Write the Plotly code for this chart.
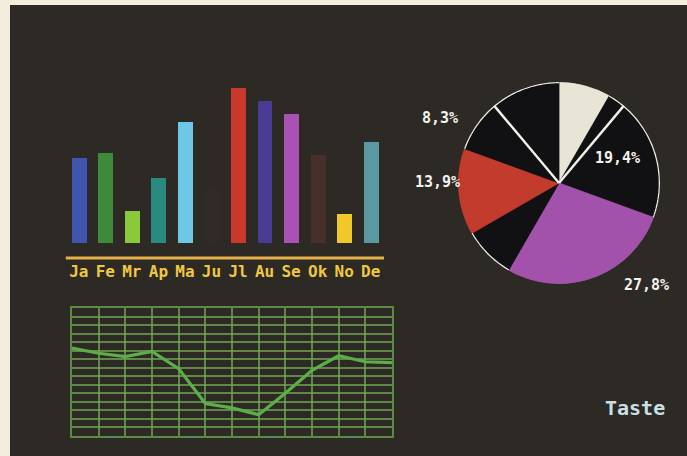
import numpy as np
import plotly.graph_objects as go

# ---- data -------------------------------------------------------------
months = ["Ja", "Fe", "Mr", "Ap", "Ma", "Ju", "Jl", "Au", "Se", "Ok", "No", "De"]
bar_values = [85, 90, 32, 65, 121, 55, 155, 142, 129, 88, 29, 101]
bar_colors = ["#3f55b0", "#3f8a3a", "#8cc83c", "#2a8a80", "#6cc8e6", "#312b27",
              "#c8392c", "#4a3c94", "#a852b4", "#48302a", "#f0c828", "#5a98a2"]

curve_x = list(range(13))
curve_values = [10.3, 9.7, 9.3, 9.9, 7.9, 3.8, 3.3, 2.5, 5.0, 7.7, 9.4, 8.7, 8.6]

# pie slices, clockwise from twelve o'clock (parts of 36)
pie_values = [3, 1, 7, 10, 3, 5, 3, 4]
pie_colors = ["#e8e4d6", "#111113", "#111113", "#a352ab", "#111113",
              "#c23b2c", "#111113", "#111113"]
pie_dark = [False, True, True, False, True, False, True, True]
pie_labelled = [2, 3, 5, 6]          # slices that carry a percentage
pie_rules = [2, 7]                   # slices whose leading edge gets a white rule

# ---- style ------------------------------------------------------------
BG = "#2d2924"
PAPER = "#f3eddd"
W, H = 687, 456
MONO = "DejaVu Sans Mono"


def px_x(p):
    return p / W


def px_y(p):
    return 1 - p / H


fig = go.Figure()

# bar chart
fig.add_trace(go.Bar(
    x=months, y=bar_values, width=0.56,
    marker=dict(color=bar_colors, line=dict(width=0)),
    xaxis="x", yaxis="y", showlegend=False, hoverinfo="skip"))
fig.add_trace(go.Scatter(
    x=months, y=[-30] * len(months), mode="text", text=months,
    textfont=dict(family=MONO, size=16, color="#f0c840", weight="bold"),
    cliponaxis=False, xaxis="x", yaxis="y", showlegend=False, hoverinfo="skip"))

# grid line chart
fig.add_trace(go.Scatter(
    x=curve_x, y=curve_values, mode="lines",
    line=dict(color="#5cae48", width=3.2),
    xaxis="x2", yaxis="y2", showlegend=False, hoverinfo="skip"))

# pie drawn as polar wedges
total = sum(pie_values)
spans = [v / total * 360 for v in pie_values]
starts = np.concatenate([[0], np.cumsum(spans)[:-1]])
mids = starts + np.array(spans) / 2

fig.add_trace(go.Barpolar(
    r=[1] * len(pie_values), theta=mids, width=spans,
    marker=dict(color=pie_colors, line=dict(color=pie_colors, width=0.8)),
    subplot="polar", showlegend=False, hoverinfo="skip"))

rim = "#f2f0ea"
for i, dark in enumerate(pie_dark):
    if dark:
        th = np.linspace(starts[i], starts[i] + spans[i], 40)
        fig.add_trace(go.Scatterpolar(
            r=np.ones_like(th), theta=th, mode="lines",
            line=dict(color=rim, width=2.6), cliponaxis=False,
            subplot="polar", showlegend=False, hoverinfo="skip"))
for i in pie_rules:
    fig.add_trace(go.Scatterpolar(
        r=[0, 1], theta=[starts[i], starts[i]], mode="lines",
        line=dict(color=rim, width=2.4), cliponaxis=False,
        subplot="polar", showlegend=False, hoverinfo="skip"))

# percentage labels placed around the pie (pixel anchors)
label_pos = {2: (617, 158), 3: (646, 285), 5: (437, 182), 6: (440, 118)}
annotations = []
for i in pie_labelled:
    pct = f"{pie_values[i] / total * 100:.1f}".replace(".", ",") + "%"
    lx, ly = label_pos[i]
    annotations.append(dict(
        x=px_x(lx), y=px_y(ly), xref="paper", yref="paper", text=pct,
        showarrow=False, xanchor="center", yanchor="middle",
        font=dict(family=MONO, size=15, color="#f4f2ec", weight="bold")))

annotations.append(dict(
    x=px_x(635), y=px_y(408), xref="paper", yref="paper", text="Taste",
    showarrow=False, xanchor="center", yanchor="middle",
    font=dict(family=MONO, size=20, color="#c8e0e4", weight="bold")))

shapes = [
    # screen area
    dict(type="rect", xref="paper", yref="paper", x0=px_x(10), x1=1,
         y0=0, y1=px_y(5), fillcolor=BG, line=dict(width=0), layer="below"),
    # bar baseline
    dict(type="line", xref="x", yref="y", x0=-0.5, x1=11.5, y0=-15, y1=-15,
         line=dict(color="#e6b048", width=3)),
]

grid_green = "rgba(112,168,84,0.75)"
fig.update_layout(
    width=W, height=H, margin=dict(l=0, r=0, t=0, b=0),
    paper_bgcolor=PAPER, plot_bgcolor="rgba(0,0,0,0)",
    bargap=0, shapes=shapes, annotations=annotations,
    xaxis=dict(domain=[px_x(65.5), px_x(384)], range=[-0.5, 11.5],
               type="category", showgrid=False, zeroline=False,
               showticklabels=False, showline=False, fixedrange=True),
    # 1 unit = 1 px; the range dips below zero to leave room for the
    # baseline rule and month labels
    yaxis=dict(domain=[px_y(285), px_y(80)], range=[-42, 163],
               showgrid=False, zeroline=False, showticklabels=False,
               showline=False, fixedrange=True),
    xaxis2=dict(domain=[px_x(72), px_x(392)], range=[0, 12], dtick=1,
                anchor="y2", showgrid=True, gridcolor=grid_green, gridwidth=1.5,
                zeroline=False, showticklabels=False, ticks="",
                showline=True, mirror=True, linecolor=grid_green, linewidth=1.5),
    yaxis2=dict(domain=[px_y(436), px_y(308)], range=[0, 15], dtick=1,
                anchor="x2", showgrid=True, gridcolor=grid_green, gridwidth=1.5,
                zeroline=False, showticklabels=False, ticks="",
                showline=True, mirror=True, linecolor=grid_green, linewidth=1.5),
    polar=dict(
        domain=dict(x=[px_x(458), px_x(660)], y=[px_y(286), px_y(80)]),
        bgcolor="rgba(0,0,0,0)", hole=0,
        radialaxis=dict(visible=False, range=[0, 1]),
        angularaxis=dict(visible=False, direction="clockwise", rotation=90),
        bargap=0),
)

fig.write_html("out.html")
